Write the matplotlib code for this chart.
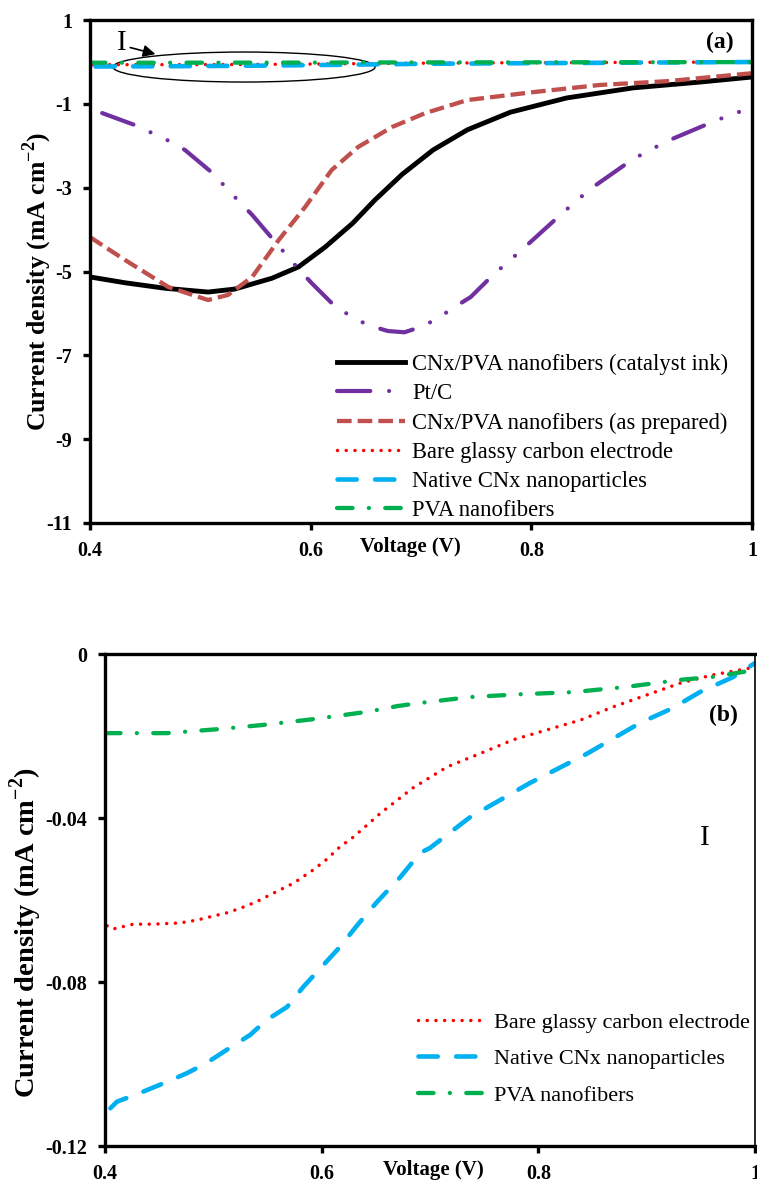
import numpy as np
import matplotlib
matplotlib.use("Agg")
import matplotlib.pyplot as plt
from matplotlib.patches import Ellipse

plt.rcParams['font.family'] = ['Liberation Serif', 'DejaVu Serif']
plt.rcParams['mathtext.fontset'] = 'custom'
plt.rcParams['mathtext.rm'] = 'Liberation Serif'
plt.rcParams['mathtext.bf'] = 'Liberation Serif:bold'
plt.rcParams['axes.unicode_minus'] = False

# ---- panel (a) data ----
ink_v = [0.400, 0.432, 0.468, 0.507, 0.531, 0.565, 0.589, 0.613, 0.638, 0.658,
         0.683, 0.711, 0.742, 0.781, 0.832, 0.892, 0.953, 1.000]
ink_j = [-5.13, -5.27, -5.40, -5.49, -5.42, -5.16, -4.89, -4.42, -3.85, -3.30,
         -2.68, -2.10, -1.62, -1.20, -0.86, -0.62, -0.48, -0.36]

ptc_v = [0.411, 0.441, 0.472, 0.486, 0.511, 0.534, 0.547, 0.568, 0.589, 0.601,
         0.622, 0.638, 0.652, 0.670, 0.685, 0.699, 0.714, 0.729, 0.745, 0.765,
         0.792, 0.828, 0.853, 0.892, 0.923, 0.968, 1.000]
ptc_j = [-1.22, -1.51, -1.89, -2.10, -2.65, -3.30, -3.65, -4.30, -4.94, -5.28,
         -5.83, -6.09, -6.28, -6.42, -6.45, -6.33, -6.14, -5.87, -5.61, -5.09,
         -4.47, -3.61, -3.04, -2.32, -1.89, -1.39, -1.08]

prep_v = [0.400, 0.432, 0.471, 0.507, 0.525, 0.547, 0.571, 0.595, 0.619, 0.643,
          0.674, 0.704, 0.742, 0.802, 0.862, 0.923, 1.000]
prep_j = [-4.18, -4.73, -5.37, -5.68, -5.56, -5.13, -4.25, -3.46, -2.58, -2.03,
          -1.55, -1.22, -0.91, -0.72, -0.55, -0.46, -0.27]

# ---- panel (b) data (also the flat lines in (a)) ----
bare_v = [0.402, 0.407, 0.426, 0.444, 0.469, 0.485, 0.500, 0.513, 0.527, 0.540,
          0.555, 0.574, 0.592, 0.605, 0.617, 0.629, 0.642, 0.654, 0.684, 0.716,
          0.746, 0.777, 0.808, 0.839, 0.869, 0.900, 0.931, 0.961, 0.996]
bare_j = [-0.0663, -0.0671, -0.0659, -0.0659, -0.0656, -0.0649, -0.0639, -0.0631,
          -0.0618, -0.0604, -0.0584, -0.0559, -0.0527, -0.0500, -0.0470, -0.0447,
          -0.0417, -0.0389, -0.0327, -0.0275, -0.0243, -0.0209, -0.0185, -0.0161,
          -0.0129, -0.0100, -0.0071, -0.0051, -0.0034]

native_v = [0.405, 0.411, 0.432, 0.454, 0.476, 0.494, 0.515, 0.534, 0.549, 0.568,
            0.583, 0.599, 0.617, 0.633, 0.651, 0.672, 0.691, 0.700, 0.737, 0.792,
            0.845, 0.894, 0.924, 0.949, 0.980, 1.000]
native_j = [-0.1108, -0.1092, -0.1071, -0.1047, -0.1022, -0.0997, -0.0961, -0.0929,
            -0.0893, -0.0861, -0.0812, -0.0766, -0.0714, -0.0661, -0.0605, -0.0546,
            -0.0485, -0.0473, -0.0398, -0.0315, -0.0243, -0.0168, -0.0132, -0.0093,
            -0.0056, -0.0022]

pva_v = [0.400, 0.457, 0.506, 0.546, 0.592, 0.642, 0.670, 0.689, 0.737, 0.785,
         0.832, 0.882, 0.931, 0.961, 1.000]
pva_j = [-0.0193, -0.0193, -0.0183, -0.0173, -0.0159, -0.0141, -0.0127, -0.0120,
         -0.0105, -0.0098, -0.0093, -0.0080, -0.0063, -0.0056, -0.0039]

labels = ['CNx/PVA nanofibers (catalyst ink)', 'Pt/C', 'CNx/PVA nanofibers (as prepared)',
          'Bare glassy carbon electrode', 'Native CNx nanoparticles', 'PVA nanofibers']

a_yticks = [1, -1, -3, -5, -7, -9, -11]
b_yticks = [0, -0.04, -0.08, -0.12]
b_yticklabels = ['0', '-0.04', '-0.08', '-0.12']
xticks = [0.4, 0.6, 0.8, 1.0]
xticklabels = ['0.4', '0.6', '0.8', '1']

W, H = 757, 1186
fig = plt.figure(figsize=(W / 100, H / 100), dpi=100)

def px_axes(l, r, t, b):
    return fig.add_axes([l / W, 1 - b / H, (r - l) / W, (b - t) / H])

ax1 = px_axes(90, 752, 20, 523)
ax2 = px_axes(105, 755, 654, 1146)

styles = {
    'ink': dict(color='black', lw=3.5, ls='-'),
    'ptc': dict(color='#7030A0', lw=3.0, ls=(0, (8, 4.5, 0.01, 4.5, 0.01, 4.5)),
                dash_capstyle='round'),
    'prep': dict(color='#C0504D', lw=3.1, ls=(0, (3.4, 1.4))),
    'bare': dict(color='#FF0000', lw=2.5, ls=(0, (0.01, 2.5)), dash_capstyle='round'),
    'native': dict(color='#00B0F0', lw=3.3, ls=(0, (4.2, 4.0)), dash_capstyle='round'),
    'pva': dict(color='#00B050', lw=3.1, ls=(0, (3.6, 3.8, 0.01, 3.8)), dash_capstyle='round'),
}

ax1.plot(ink_v, ink_j, label=labels[0], **styles['ink'])
ax1.plot(ptc_v, ptc_j, label=labels[1], **styles['ptc'])
ax1.plot(prep_v, prep_j, label=labels[2], **styles['prep'])
ax1.plot(bare_v, bare_j, label=labels[3], **styles['bare'])
ax1.plot(native_v, native_j, label=labels[4], **styles['native'])
ax1.plot(pva_v, pva_j, label=labels[5], **styles['pva'])

ax2.plot(bare_v, bare_j, label=labels[3], **styles['bare'])
ax2.plot(native_v, native_j, label=labels[4], **styles['native'])
ax2.plot(pva_v, pva_j, label=labels[5], **styles['pva'])

ax1.set_xlim(0.4, 1.0)
ax1.set_ylim(-11, 1)
ax1.set_yticks(a_yticks)
ax1.set_yticklabels([str(t) for t in a_yticks])
ax2.set_xlim(0.4, 1.0)
ax2.set_ylim(-0.12, 0)
ax2.set_yticks(b_yticks)
ax2.set_yticklabels(b_yticklabels)

for ax in (ax1, ax2):
    ax.set_xticks(xticks)
    ax.set_xticklabels(xticklabels)
    for s in ax.spines.values():
        s.set_linewidth(2.4)
    ax.tick_params(direction='out', length=5, width=2.4, pad=8, labelsize=14.5)
    for t in ax.get_xticklabels() + ax.get_yticklabels():
        t.set_fontweight('bold')
ax2.spines['right'].set_linewidth(1.2)

ylab = r'Current density (mA cm$^{\mathbf{-2}}$)'
ax1.text((37 - 90) / 662, (523 - 281) / 503, ylab, transform=ax1.transAxes, rotation=90,
         ha='center', va='center', fontsize=18.5, fontweight='bold')
ax2.text((26 - 105) / 650, (1146 - 933) / 492, ylab, transform=ax2.transAxes, rotation=90,
         ha='center', va='center', fontsize=20.5, fontweight='bold')
ax1.text((410 - 90) / 662, -24 / 503, 'Voltage (V)', transform=ax1.transAxes,
         ha='center', va='center', fontsize=15, fontweight='bold')
ax2.text((433 - 105) / 650, -24 / 492, 'Voltage (V)', transform=ax2.transAxes,
         ha='center', va='center', fontsize=15, fontweight='bold')

ax1.text((720 - 90) / 662, (523 - 42) / 503, '(a)', transform=ax1.transAxes,
         ha='center', va='center', fontsize=17, fontweight='bold')
ax2.text((723 - 105) / 650, (1146 - 715) / 492, '(b)', transform=ax2.transAxes,
         ha='center', va='center', fontsize=17, fontweight='bold')

# circled region I
ax1.add_patch(Ellipse((0.5396, -0.122), 0.2375, 0.716, fill=False, ec='black', lw=1.0))
ax1.annotate('', xy=(0.4617, 0.17), xytext=(0.434, 0.36),
             arrowprops=dict(arrowstyle='-|>', color='black', lw=1.2, mutation_scale=18))
ax1.text((122 - 90) / 662, (523 - 43) / 503, 'I', transform=ax1.transAxes,
         ha='center', va='center', fontsize=21)
ax2.text((705 - 105) / 650, (1146 - 838) / 492, 'I', transform=ax2.transAxes,
         ha='center', va='center', fontsize=21)

ax1.legend(loc='upper left', bbox_to_anchor=((337 - 90) / 662, (523 - 354) / 503),
           frameon=False, fontsize=16.3, handlelength=3.0, handletextpad=0.33,
           labelspacing=0.36, borderpad=0, borderaxespad=0)
ax2.legend(loc='upper left', bbox_to_anchor=((418 - 105) / 650, (1146 - 1012) / 492),
           frameon=False, fontsize=16, handlelength=2.9, handletextpad=0.5,
           labelspacing=0.72, borderpad=0, borderaxespad=0)

fig.savefig('out.png', dpi=100)
